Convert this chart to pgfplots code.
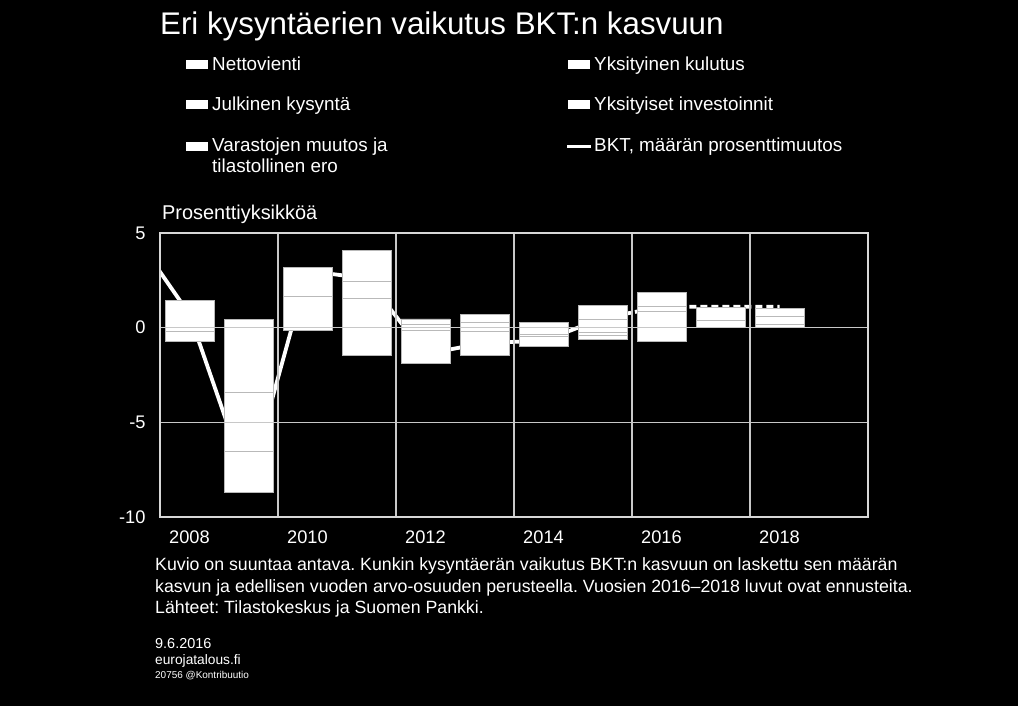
\documentclass[border=0pt]{standalone}
\usepackage{fontspec}
\setmainfont{Liberation Sans}
\usepackage{pgfplots}
\usepackage{pgfplotstable}
\pgfplotsset{compat=1.18}
\frenchspacing
\definecolor{gridc}{RGB}{200,200,200}
\definecolor{framec}{RGB}{215,215,215}
\definecolor{sepc}{RGB}{185,185,185}

% positive contributions (s1 Yksityinen kulutus, s2 Julkinen kysyntä,
% s3 Yksityiset investoinnit, s4 Nettovienti, s5 Varastojen muutos)
\pgfplotstableread{
year s1   s2   s3   s4   s5
2008 1.43 0    0    0    0
2009 0    0.44 0    0    0
2010 1.64 0    1.55 0    0
2011 1.55 0.90 1.62 0    0
2012 0.18 0.28 0    0    0
2013 0    0.29 0    0.42 0
2014 0.29 0    0    0    0
2015 0.41 0    0    0    0.75
2016 0.88 0.23 0.76 0    0
2017 0.37 0    0.71 0    0
2018 0.18 0    0.44 0.40 0
}\postab
% negative contributions
\pgfplotstableread{
year s1    s2    s3    s4    s5
2008 0     0     -0.19 0     -0.51
2009 0     0     -3.40 -3.15 -2.17
2010 0     0     0     -0.16 0
2011 0     0     0     -1.48 0
2012 0     0     -0.12 0     -1.76
2013 -0.21 0     -1.23 0     0
2014 0     -0.35 -0.12 -0.50 0
2015 0     -0.26 -0.16 -0.18 0
2016 0     0     0     -0.74 0
2017 0     0     0     0     0
2018 0     0     0     0     0
}\negtab

\begin{document}
\begin{tikzpicture}
\path[use as bounding box] (0,0) rectangle (1018bp,706bp);
\fill[black] (0,0) rectangle (1018bp,706bp);
\pgfplotsset{
  base/.style={at={(160bp,189bp)}, anchor=south west, scale only axis,
    width=708bp, height=284bp, xmin=2007.5, xmax=2019.5, ymin=-10, ymax=5},
  segs/.style={fill=white, draw=sepc, line width=0.8bp},
}
% GDP line (behind bars)
\begin{axis}[base, hide axis]
\addplot[white, line width=3.8bp, line join=round] coordinates {
(2007,5.2) (2008,0.7) (2009,-8.3) (2010,3.0) (2011,2.6) (2012,-1.4)
(2013,-0.8) (2014,-0.7) (2015,0.5)};
\addplot[white, line width=3.8bp, dash pattern=on 7bp off 4bp] coordinates {
(2015,0.5) (2016,1.1) (2017,1.1) (2018,1.1)};
\end{axis}
% positive parts
\begin{axis}[base, hide axis, ybar stacked, bar width=0.83]
\addplot[segs] table[x=year,y=s1]{\postab};
\addplot[segs] table[x=year,y=s2]{\postab};
\addplot[segs] table[x=year,y=s3]{\postab};
\addplot[segs] table[x=year,y=s4]{\postab};
\addplot[segs] table[x=year,y=s5]{\postab};
\end{axis}
% negative parts + axis decorations
\begin{axis}[base, ybar stacked, bar width=0.83, axis on top,
  ytick={-10,-5,0,5},
  xtick={2008,2010,...,2018},
  minor xtick={2009.5,2011.5,2013.5,2015.5,2017.5},
  ymajorgrids, xminorgrids,
  major grid style={draw=gridc, line width=1.2bp},
  minor grid style={draw=gridc, line width=1.2bp},
  axis line style={draw=framec, line width=1.6bp},
  tick style={draw=none},
  major tick length=0pt, minor tick length=0pt,
  ticklabel style={text=white, font=\fontsize{18.3}{20}\selectfont},
  /pgf/number format/assume math mode=true,
  /pgf/number format/1000 sep={},
  yticklabel style={xshift=-11bp},
  xticklabel style={yshift=-10bp},
  ylabel={Prosenttiyksikköä},
  every axis y label/.style={at={(axis description cs:0,1)}, anchor=base west,
    inner sep=0pt, xshift=2bp, yshift=13bp, text=white,
    font=\fontsize{20}{22}\selectfont},
]
\addplot[segs] table[x=year,y=s1]{\negtab};
\addplot[segs] table[x=year,y=s2]{\negtab};
\addplot[segs] table[x=year,y=s3]{\negtab};
\addplot[segs] table[x=year,y=s4]{\negtab};
\addplot[segs] table[x=year,y=s5]{\negtab};
\end{axis}

% title
\node[anchor=base west, inner sep=0, text=white, font=\fontsize{31.4}{34}\selectfont]
  at (160bp,671bp) {Eri kysyntäerien vaikutus BKT:n kasvuun};

% legend
\begin{scope}[every node/.style={anchor=base west, inner sep=0, text=white,
    font=\fontsize{18.9}{21}\selectfont}]
\fill[white] (186bp,636.5bp) rectangle (208bp,645.5bp);
\node at (212bp,635.5bp) {Nettovienti};
\fill[white] (568bp,636.5bp) rectangle (590bp,645.5bp);
\node at (594bp,635.5bp) {Yksityinen kulutus};
\fill[white] (186bp,596.5bp) rectangle (208bp,605.5bp);
\node at (212bp,595.5bp) {Julkinen kysyntä};
\fill[white] (568bp,596.5bp) rectangle (590bp,605.5bp);
\node at (594bp,595.5bp) {Yksityiset investoinnit};
\fill[white] (186bp,554.5bp) rectangle (208bp,563.5bp);
\node at (212bp,554bp) {Varastojen muutos ja};
\node at (212bp,533bp) {tilastollinen ero};
\draw[white, line width=3bp] (567bp,559bp) -- (591bp,559bp);
\node at (594bp,554bp) {BKT, määrän prosenttimuutos};
\end{scope}

% notes
\begin{scope}[every node/.style={anchor=base west, inner sep=0, text=white}]
\node[font=\fontsize{17.8}{20}\selectfont] at (155bp,135bp)
  {Kuvio on suuntaa antava. Kunkin kysyntäerän vaikutus BKT:n kasvuun on laskettu sen määrän};
\node[font=\fontsize{17.8}{20}\selectfont] at (155bp,113.5bp)
  {kasvun ja edellisen vuoden arvo-osuuden perusteella. Vuosien 2016–2018 luvut ovat ennusteita.};
\node[font=\fontsize{17.8}{20}\selectfont] at (155bp,92bp)
  {Lähteet: Tilastokeskus ja Suomen Pankki.};
\node[font=\fontsize{14.5}{15}\selectfont] at (155bp,57bp) {9.6.2016};
\node[font=\fontsize{13.8}{15}\selectfont] at (155bp,41bp) {eurojatalous.fi};
\node[font=\fontsize{10}{11}\selectfont] at (155bp,28bp) {20756 @Kontribuutio};
\end{scope}
\end{tikzpicture}
\end{document}
